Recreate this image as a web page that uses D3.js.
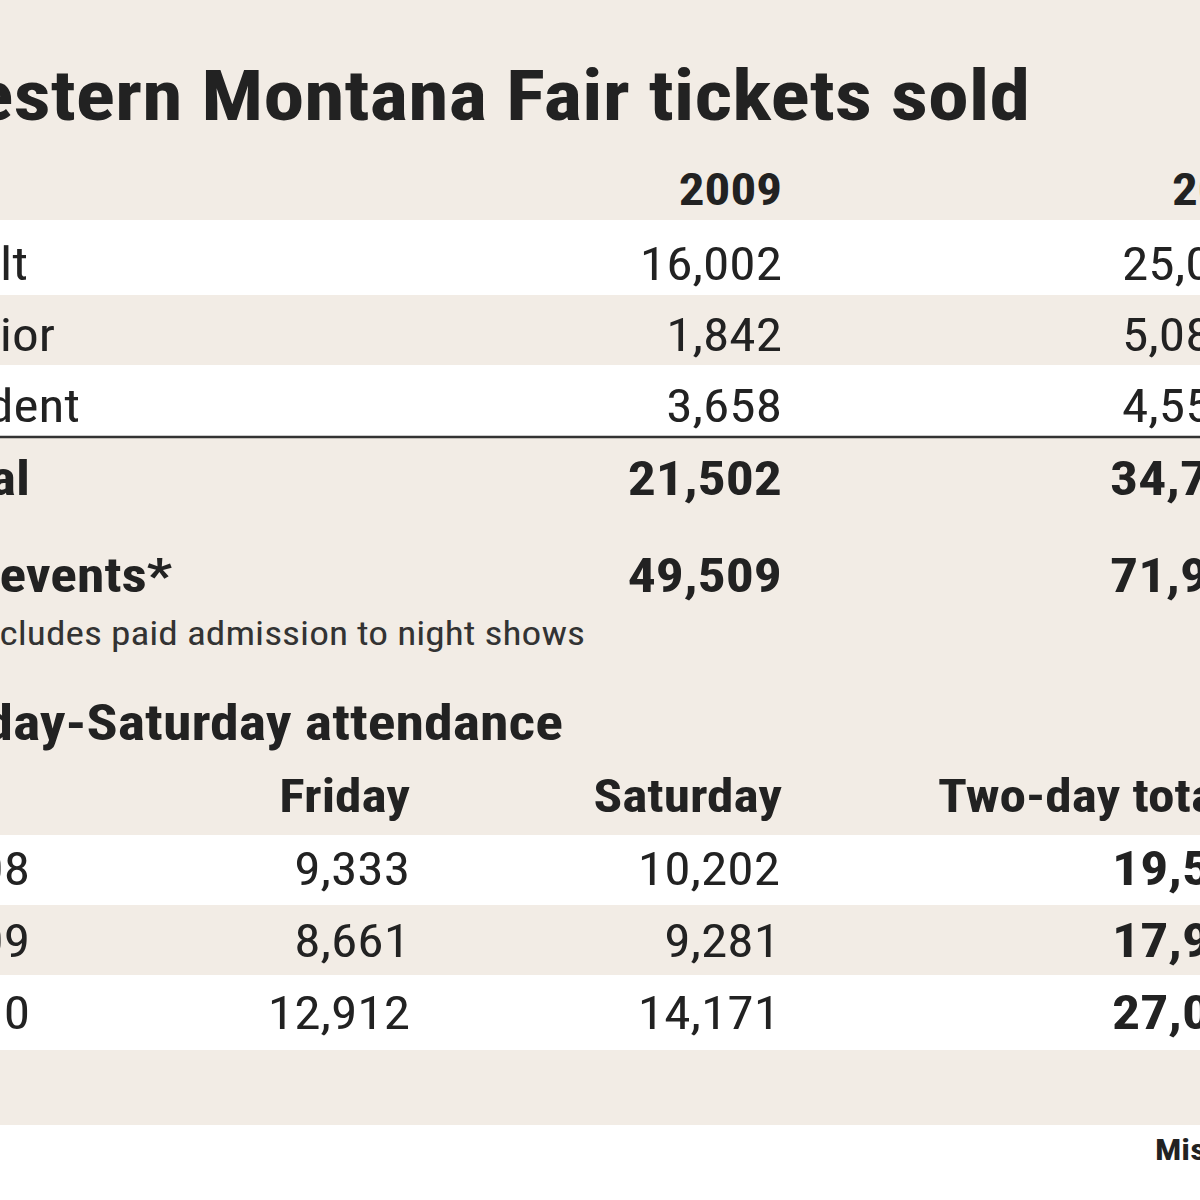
<!DOCTYPE html>
<html><head><meta charset="utf-8">
<script src="https://cdn.jsdelivr.net/npm/d3@7"></script>
<style>body{margin:0;background:#f2ece5}svg{display:block}text{font-family:"Liberation Sans Narrow","Arial Narrow","Roboto Condensed",sans-serif;fill:#222}</style>
</head><body><svg id="c" width="1200" height="1200"></svg>
<script>
const title = "Western Montana Fair tickets sold";
const years = ["2009", "2010"];
const ticketTypes = ["Adult", "Senior", "Student"];
const tickets2009 = [16002, 1842, 3658];
const tickets2010 = [25093, 5080, 4559];
const totals = [21502, 34732];
const allEvents = [49509, 71934];
const footnote = "*Includes paid admission to night shows";
const section2 = "Friday-Saturday attendance";
const dayHeaders = ["Friday", "Saturday", "Two-day total"];
const attYears = ["2008", "2009", "2010"];
const friday = [9333, 8661, 12912];
const saturday = [10202, 9281, 14171];
const source = "Missoulian";

const fmt = d3.format(",");
const svg = d3.select("#c");
const W = 1200;

const bands = [[220,295,"#fff"],[365,436,"#fff"],[835,905,"#fff"],[975,1050,"#fff"],[1125,1200,"#fff"]];
svg.selectAll("rect.b").data(bands).join("rect").attr("x",0).attr("width",W)
  .attr("y",d=>d[0]).attr("height",d=>d[1]-d[0]).attr("fill",d=>d[2]);
svg.append("line").attr("x1",0).attr("x2",W).attr("y1",437).attr("y2",437).attr("stroke","#333").attr("stroke-width",2.5);

function t(x,y,s,opt){
  const sx = opt.sx||1.16;
  const e = svg.append("text").attr("transform",`translate(${x},${y}) scale(${sx},1)`).text(s)
    .attr("font-size",opt.size||46).attr("font-weight",opt.bold?"bold":"normal")
    .attr("text-anchor",opt.anchor||"end");
  if(opt.fill) e.style("fill",opt.fill);
  return e;
}
t(1030,120,title,{size:70,bold:true,sx:1.17});
t(782,205,years[0],{size:44,bold:true});
t(1172,205,years[1],{size:44,bold:true,anchor:"start"});

const rowY = d3.scaleLinear().domain([0,1]).range([280,351]);
const labelEnds = [28,55,80];
ticketTypes.forEach((k,i)=>{
  t(labelEnds[i],rowY(i),k,{});
  t(782,rowY(i),fmt(tickets2009[i]),{});
  t(1122,rowY(i),fmt(tickets2010[i]),{anchor:"start"});
});
t(30,495,"Total",{bold:true,size:48});
t(782,495,fmt(totals[0]),{bold:true,size:48});
t(1110,495,fmt(totals[1]),{bold:true,size:48,anchor:"start"});
t(172,592,"All events*",{bold:true,size:48});
t(782,592,fmt(allEvents[0]),{bold:true,size:48});
t(1110,592,fmt(allEvents[1]),{bold:true,size:48,anchor:"start"});
t(585,645,footnote,{size:34,fill:"#333"});

t(563,740,section2,{size:50,bold:true});
t(410,812,dayHeaders[0],{size:46,bold:true});
t(782,812,dayHeaders[1],{size:46,bold:true});
t(938,812,dayHeaders[2],{size:46,bold:true,anchor:"start"});
const attY = d3.scaleLinear().domain([0,1]).range([885,957]);
attYears.forEach((y,i)=>{
  t(30,attY(i),y,{});
  t(410,attY(i),fmt(friday[i]),{});
  t(780,attY(i),fmt(saturday[i]),{});
  t(1112,attY(i),fmt(friday[i]+saturday[i]),{bold:true,size:48,anchor:"start"});
});
t(1155,1160,source,{size:30,bold:true,anchor:"start"});
</script></body></html>
